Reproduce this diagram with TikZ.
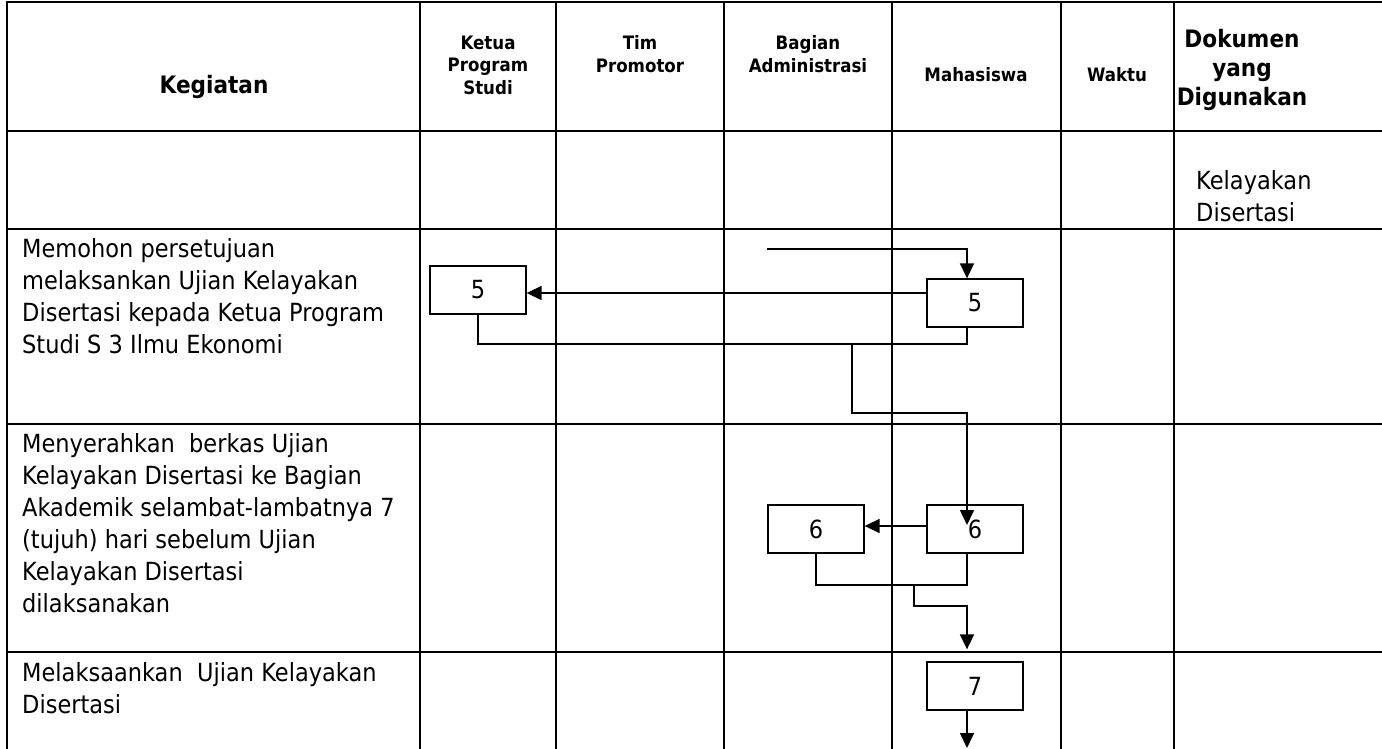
\documentclass[tikz,border=0pt]{standalone}
\usepackage{fontspec}
\setmainfont{DejaVu Sans}[FakeStretch=0.9]
\usetikzlibrary{arrows.meta}

\begin{document}
\begin{tikzpicture}[x=1pt,y=-1pt,
	grid/.style = {line width=2pt},
	flow/.style = {line width=1.6pt},
	arr/.style = {flow, -{Triangle[length=15pt,width=14pt]}},
	box/.style = {draw, line width=1.3pt, minimum width=96pt, minimum height=48pt, inner sep=0pt, font=\fontsize{25}{30}\selectfont},
	cell/.style = {anchor=north west, align=left, inner sep=0pt, font=\fontsize{25}{32}\selectfont},
	head/.style = {align=center, inner sep=0pt, font=\bfseries\fontsize{18.5}{22.5}\selectfont},
	bighead/.style = {align=center, inner sep=0pt, font=\bfseries\fontsize{24}{29}\selectfont}]
	\useasboundingbox (0,0) rectangle (1382,749);

	% table
	\draw[grid] (7,749) -- (7,2) -- (1382,2);
	\foreach \x in {420,556,724,892,1061,1174}
		\draw[grid] (\x,2) -- (\x,749);
	\foreach \y in {131,229,424,652}
		\draw[grid] (7,\y) -- (1382,\y);

	% header
	\node[bighead] (hk) at (214,87) {Kegiatan};
	\node[head] (h1) at (488,65) {Ketua\\Program\\Studi};
	\node[head] (h2) at (640,54) {Tim\\Promotor};
	\node[head] (h3) at (808,54) {Bagian\\Administrasi};
	\node[head] (h4) at (976,75) {Mahasiswa};
	\node[head] (h5) at (1117,75) {Waktu};
	\node[bighead] (h6) at (1242,70) {Dokumen\\yang\\Digunakan};

	% rows
	\node[cell] (d1) at (1196,170) {Kelayakan\\Disertasi};
	\node[cell] (t1) at (22,238) {Memohon persetujuan\\melaksankan Ujian Kelayakan\\Disertasi kepada Ketua Program\\Studi S 3 Ilmu Ekonomi};
	\node[cell] (t2) at (22,433) {Menyerahkan\ \ berkas Ujian\\Kelayakan Disertasi ke Bagian\\Akademik selambat-lambatnya 7\\(tujuh) hari sebelum Ujian\\Kelayakan Disertasi\\dilaksanakan};
	\node[cell] (t3) at (22,662) {Melaksaankan\ \ Ujian Kelayakan\\Disertasi};

	% steps
	\node[box] (k5) at (478,290) {5};
	\node[box] (m5) at (975,303) {5};
	\node[box] (b6) at (816,529) {6};
	\node[box] (m6) at (975,529) {6};
	\node[box] (m7) at (975,686) {7};

	\coordinate (in) at (767,249);
	\coordinate (j1) at (852,344);
	\coordinate (j2) at (852,413);
	\coordinate (j3) at (914,585);
	\coordinate (j4) at (914,606);
	\coordinate (out) at (967,748);

	\draw[arr] (in) -| ([xshift=-8pt]m5.north);
	\draw[arr] ([yshift=10pt]m5.west) -- ([yshift=10pt]m5.west -| k5.east);
	\draw[flow] (k5.south) |- (j1) -| ([xshift=-8pt]m5.south);
	\draw[arr] (j1) -- (j2) -| ([xshift=-8pt,yshift=4pt]m6.center);
	\draw[arr] ([yshift=3pt]m6.west) -- ([yshift=3pt]m6.west -| b6.east);
	\draw[flow] (b6.south) |- (j3) -| ([xshift=-8pt]m6.south);
	\draw[arr] (j3) -- (j4) -| ([xshift=-8pt,yshift=12pt]m7.north);
	\draw[arr] ([xshift=-8pt]m7.south) -- (out);
\end{tikzpicture}
\end{document}
